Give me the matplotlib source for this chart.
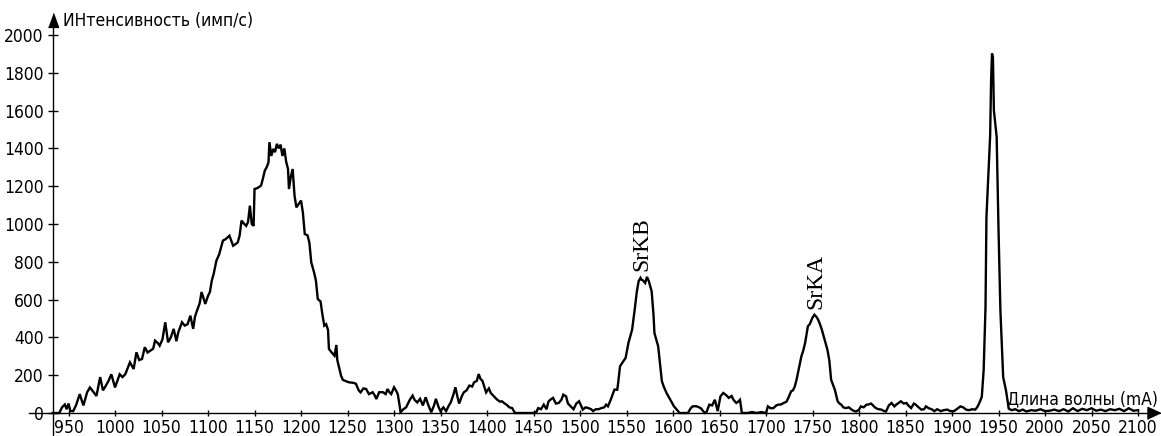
import matplotlib
matplotlib.use("Agg")
import matplotlib.pyplot as plt

# Spectrum: wavelength (mA) and intensity (counts/s)
wavelength = [
    933, 940, 943, 946, 948, 950, 952, 955, 958, 962, 966, 970, 973, 977, 980, 984, 987, 989, 993, 996,
    1000, 1005, 1008, 1011, 1016, 1020, 1023, 1026, 1029, 1032, 1035, 1038, 1041, 1043, 1046, 1048,
    1051, 1054, 1057, 1060, 1063, 1066, 1068, 1072, 1075, 1078, 1081, 1084, 1086, 1088, 1091, 1093,
    1095, 1097, 1100, 1102, 1104, 1106, 1109, 1112, 1116, 1119, 1123, 1127, 1130, 1132, 1134, 1136,
    1139, 1141, 1143, 1145, 1147, 1149, 1150, 1153, 1157, 1159, 1161, 1163, 1165, 1166, 1168, 1170,
    1172, 1174, 1176, 1178, 1180, 1182, 1184, 1186, 1187, 1189, 1191, 1193, 1195, 1198, 1200, 1202,
    1204, 1207, 1209, 1211, 1214, 1216, 1218, 1221, 1223, 1225, 1227, 1229, 1230, 1233, 1236, 1238,
    1239, 1241, 1243, 1245, 1247, 1250, 1252, 1256, 1259, 1262, 1264, 1267, 1270, 1273, 1277, 1279,
    1281, 1284, 1288, 1291, 1293, 1295, 1297, 1300, 1302, 1304, 1306, 1307, 1310, 1313, 1317, 1320,
    1322, 1325, 1328, 1331, 1334, 1337, 1340, 1343, 1345, 1348, 1350, 1353, 1356, 1359, 1361, 1364,
    1366, 1368, 1370, 1373, 1375, 1378, 1381, 1384, 1386, 1389, 1391, 1393, 1395, 1397, 1399, 1402,
    1404, 1407, 1409, 1411, 1414, 1416, 1419, 1421, 1424, 1427, 1430, 1435, 1440, 1445, 1450, 1453,
    1455, 1458, 1461, 1464, 1466, 1468, 1471, 1474, 1477, 1480, 1482, 1485, 1487, 1490, 1493, 1496,
    1499, 1501, 1503, 1506, 1509, 1512, 1514, 1517, 1520, 1523, 1526, 1528, 1530, 1533, 1535, 1537,
    1540, 1541, 1543, 1546, 1549, 1552, 1556, 1559, 1561, 1563, 1565, 1566, 1568, 1570, 1572, 1574,
    1577, 1579, 1580, 1584, 1586, 1588, 1590, 1593, 1596, 1598, 1601, 1604, 1607, 1612, 1616, 1619,
    1621, 1625, 1628, 1630, 1634, 1636, 1639, 1642, 1645, 1648, 1651, 1654, 1657, 1660, 1663, 1665,
    1668, 1670, 1672, 1674, 1680, 1685, 1690, 1695, 1700, 1702, 1705, 1708, 1711, 1713, 1716, 1719,
    1722, 1724, 1727, 1729, 1731, 1733, 1735, 1738, 1740, 1742, 1745, 1747, 1749, 1750, 1752, 1754,
    1756, 1758, 1760, 1763, 1766, 1768, 1770, 1772, 1774, 1777, 1779, 1781, 1783, 1786, 1789, 1792,
    1795, 1797, 1800, 1802, 1805, 1808, 1810, 1813, 1816, 1818, 1821, 1824, 1827, 1829, 1832, 1835,
    1838, 1840, 1843, 1845, 1848, 1851, 1853, 1856, 1859, 1861, 1864, 1867, 1870, 1872, 1875, 1878,
    1881, 1884, 1888, 1891, 1895, 1898, 1902, 1905, 1909, 1912, 1915, 1918, 1922, 1925, 1927, 1929,
    1932, 1934, 1936, 1937, 1939, 1941, 1942, 1943, 1944, 1945, 1948, 1950, 1952, 1955, 1958, 1961,
    1964, 1968, 1972, 1976, 1980, 1985, 1990, 1995, 2000, 2005, 2010, 2015, 2020, 2025, 2030, 2035,
    2040, 2045, 2050, 2055, 2060, 2065, 2070, 2075, 2080, 2085, 2090, 2095, 2100,
]
intensity = [
    0, 0, 30, 45, 20, 50, 10, 10, 40, 100, 40, 110, 135, 110, 90, 190, 120, 135, 170, 205,
    135, 205, 190, 205, 268, 233, 321, 280, 286, 348, 320, 330, 340, 383, 370, 356,
    390, 480, 374, 400, 445, 380, 427, 480, 462, 470, 515, 445, 510, 540, 580, 640,
    610, 577, 620, 640, 700, 735, 806, 840, 912, 920, 938, 885, 895, 903, 940, 1018,
    1000, 990, 1010, 1097, 1000, 990, 1185, 1190, 1203, 1240, 1282, 1300, 1326, 1433, 1360, 1397,
    1380, 1424, 1400, 1420, 1360, 1400, 1330, 1291, 1185, 1250, 1291, 1150, 1088, 1110, 1124, 1060,
    947, 940, 900, 797, 744, 700, 603, 590, 520, 462, 470, 440, 339, 320, 303, 360,
    280, 240, 198, 175, 171, 165, 162, 160, 155, 120, 109, 130, 127, 100, 110, 95,
    74, 110, 110, 100, 127, 110, 100, 136, 120, 100, 40, 4, 20, 30, 70, 92,
    70, 56, 75, 40, 83, 40, 4, 40, 75, 30, 10, 30, 10, 40, 56, 100,
    136, 90, 50, 90, 109, 120, 145, 140, 162, 170, 206, 180, 171, 140, 109, 130,
    106, 90, 80, 70, 60, 62, 50, 44, 30, 26, 0, 0, 0, 0, 0, 5,
    26, 20, 44, 20, 60, 70, 80, 50, 53, 70, 97, 88, 50, 35, 20, 50,
    62, 40, 18, 30, 26, 20, 10, 20, 20, 26, 30, 44, 35, 70, 97, 124,
    123, 159, 247, 270, 291, 370, 441, 556, 640, 697, 715, 706, 700, 688, 720, 697,
    644, 520, 423, 353, 260, 168, 140, 106, 80, 62, 35, 18, 0, 0, 0, 25,
    35, 36, 30, 25, 0, 5, 44, 40, 70, 10, 88, 106, 95, 80, 90, 70,
    53, 60, 70, 0, 0, 5, 0, 5, 0, 35, 25, 26, 40, 44, 45, 53,
    60, 80, 115, 120, 141, 180, 229, 300, 330, 370, 459, 470, 494, 505, 520, 510,
    494, 470, 441, 388, 335, 280, 176, 150, 123, 62, 50, 44, 30, 26, 30, 18,
    10, 8, 18, 35, 30, 44, 45, 50, 35, 26, 20, 18, 10, 8, 40, 53,
    35, 44, 55, 62, 50, 53, 40, 26, 50, 44, 30, 18, 20, 35, 25, 20,
    10, 20, 10, 15, 18, 10, 10, 20, 35, 30, 18, 15, 20, 18, 30, 49,
    85, 226, 561, 1037, 1249, 1469, 1760, 1902, 1880, 1602, 1460, 967, 543, 190, 120, 23,
    15, 20, 10, 18, 8, 15, 12, 20, 10, 12, 18, 10, 20, 8, 25, 10,
    22, 15, 25, 12, 18, 10, 20, 15, 22, 10, 25, 12, 15,
]

x_ticks = list(range(950, 2101, 50))
y_ticks = list(range(0, 2001, 200))

peak_names = ["SrKB", "SrKA"]
peak_wavelengths = [1567, 1754]
peak_heights = [720, 520]

y_title = "ИНтенсивность (имп/с)"
x_title = "Длина волны (mA)"

sans = ["DejaVu Sans"]
serif = ["Liberation Serif", "DejaVu Serif"]
label_style = dict(family=sans, fontsize=12.5, fontstretch="condensed")

fig = plt.figure(figsize=(11.61, 4.36), dpi=100)
ax = fig.add_axes([0, 0, 1, 1])
ax.set_xlim(876.3, 2124.7)
ax.set_ylim(-121.7, 2185.2)

ax.plot(wavelength, intensity, color="black", lw=1.7, solid_joinstyle="miter")

# Axes drawn as crossing lines with arrowheads
y_axis_x = 933
for side in ("top", "right"):
    ax.spines[side].set_visible(False)
ax.spines["left"].set_position(("data", y_axis_x))
ax.spines["bottom"].set_position(("data", 0))
ax.spines["left"].set_bounds(-121.7, 2079)
ax.spines["bottom"].set_bounds(908, 2117)
for side in ("left", "bottom"):
    ax.spines[side].set_linewidth(1.0)

up_arrow = [(-0.36, -0.5), (0.36, -0.5), (0, 0.5)]
right_arrow = [(-0.5, -0.46), (-0.5, 0.46), (0.5, 0)]
ax.plot([y_axis_x], [2079], marker=up_arrow, markersize=10, color="black",
        clip_on=False, linestyle="none")
ax.plot([2117], [0], marker=right_arrow, markersize=9.4, color="black",
        clip_on=False, linestyle="none")

ax.set_xticks(x_ticks)
ax.set_yticks(y_ticks)
ax.tick_params(axis="y", direction="inout", length=7, width=1.0, pad=3)
ax.tick_params(axis="x", direction="inout", length=5, width=1.0, pad=2)
for lbl in ax.get_xticklabels() + ax.get_yticklabels():
    lbl.set_family(sans)
    lbl.set_fontsize(12.5)
    lbl.set_fontstretch("condensed")

ax.text(944, 2074, y_title, ha="left", va="center", **label_style)
ax.text(2121.5, 48, x_title, ha="right", va="baseline", **label_style)

for name, wl, h in zip(peak_names, peak_wavelengths, peak_heights):
    ax.annotate(name, (wl, h), xytext=(0, 4), textcoords="offset points",
                rotation=90, ha="center", va="bottom", fontsize=17, family=serif)

fig.savefig("out.png", dpi=100, facecolor="white")
